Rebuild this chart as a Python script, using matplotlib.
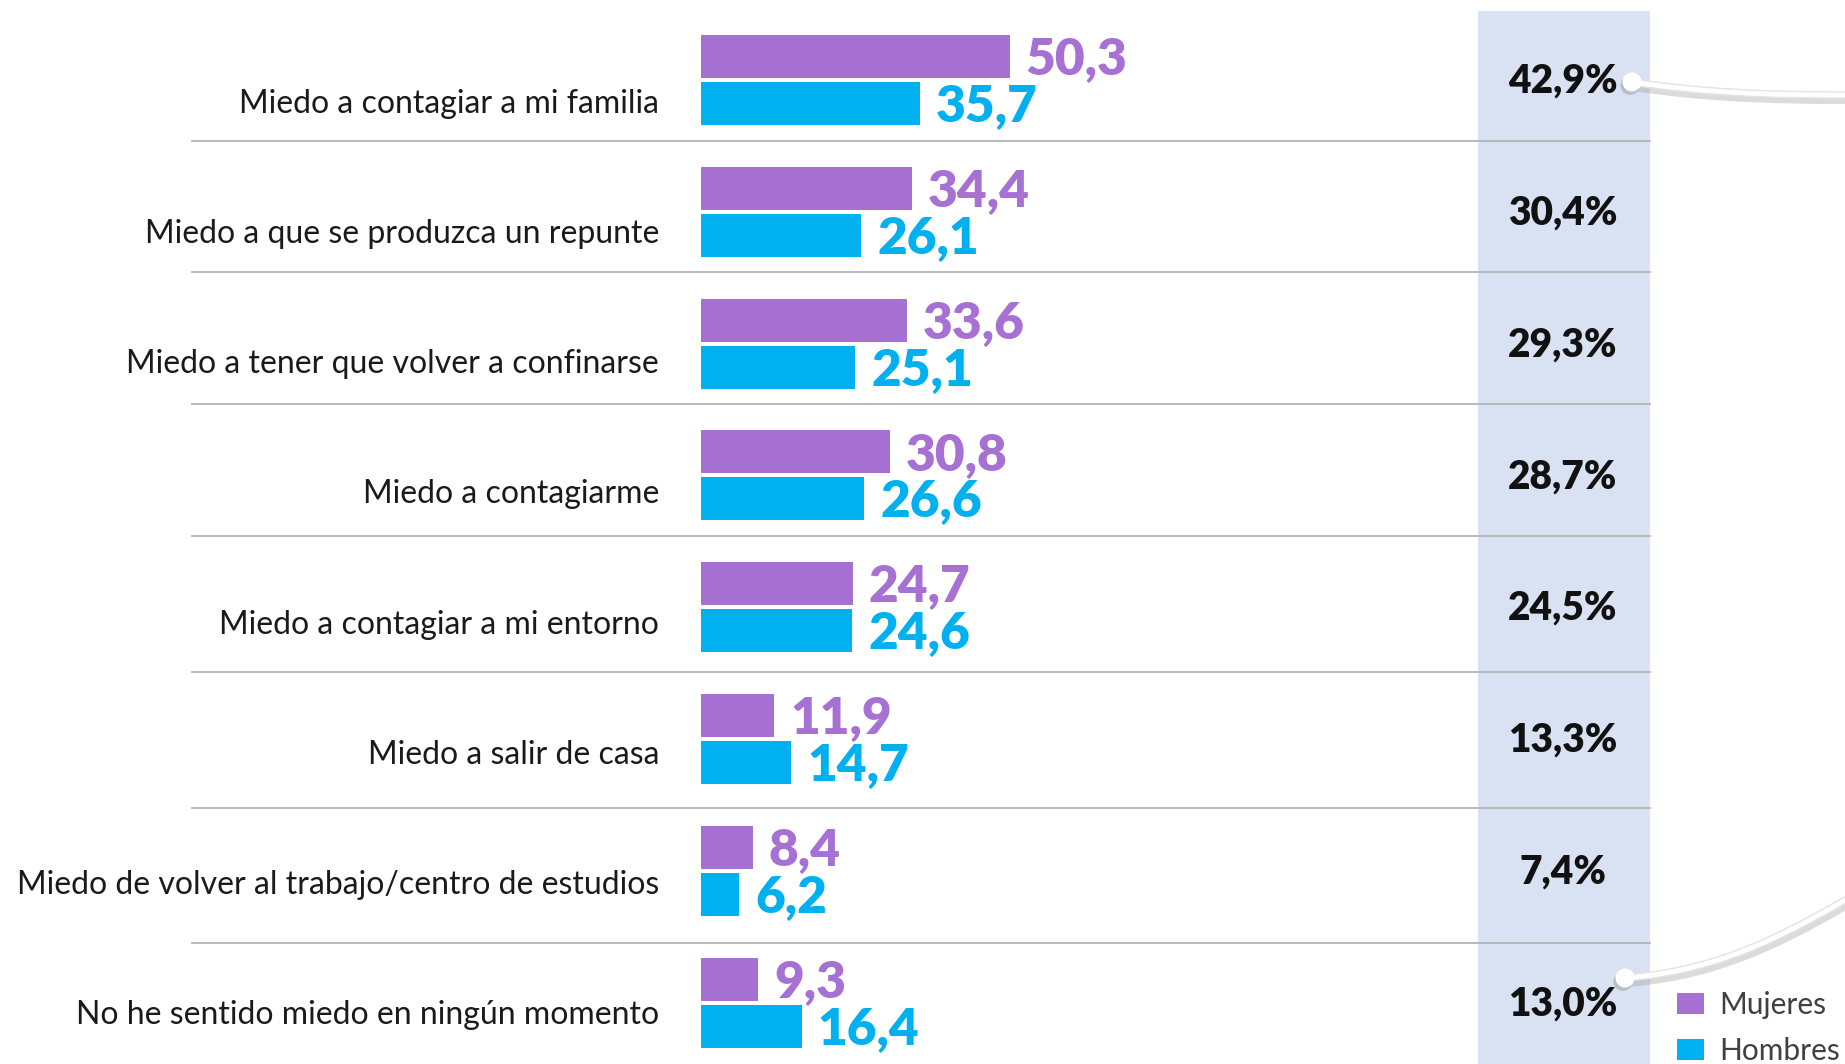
import numpy as np
import matplotlib
matplotlib.use("Agg")
import matplotlib.pyplot as plt
import matplotlib.patheffects as pe
import matplotlib.transforms as mtransforms
from matplotlib.path import Path
from matplotlib.patches import PathPatch, Rectangle, Circle

plt.rcParams['font.family'] = ['Lato', 'DejaVu Sans']

# Data (top to bottom)
categories = [
    "Miedo a contagiar a mi familia",
    "Miedo a que se produzca un repunte",
    "Miedo a tener que volver a confinarse",
    "Miedo a contagiarme",
    "Miedo a contagiar a mi entorno",
    "Miedo a salir de casa",
    "Miedo de volver al trabajo/centro de estudios",
    "No he sentido miedo en ningún momento",
]
mujeres = [50.3, 34.4, 33.6, 30.8, 24.7, 11.9, 8.4, 9.3]
hombres = [35.7, 26.1, 25.1, 26.6, 24.6, 14.7, 6.2, 16.4]
total = [42.9, 30.4, 29.3, 28.7, 24.5, 13.3, 7.4, 13.0]
series_labels = ["Mujeres", "Hombres"]

PURPLE = "#A770D3"
BLUE = "#00B0EF"
COLUMN_BG = "#D9E2F3"

W, H = 1845, 1064


def fmt(v):
    return f"{v:.1f}".replace(".", ",")


fig = plt.figure(figsize=(W / 100, H / 100), dpi=100)
ax = fig.add_axes([0, 0, 1, 1])

# scale: bars start at 701 px, 6.14 px per unit; rows 131.8 px apart, first at 80 px
px_per_unit = 6.14
row_px = 131.8
x0_px, y0_px = 701, 80
ax.set_xlim(-x0_px / px_per_unit, (W - x0_px) / px_per_unit)
ax.set_ylim((H - y0_px) / row_px, -y0_px / row_px)
ax.axis("off")


def px(x, y):
    # pixel (from top-left) -> axes fraction
    return x / W, 1 - y / H


# highlighted total column
cx0, cy0 = px(1478, 11)
cx1, _ = px(1650, 0)
ax.add_patch(Rectangle((cx0, 0), cx1 - cx0, cy0, transform=ax.transAxes,
                       facecolor=COLUMN_BG, edgecolor="none", zorder=0))

y = np.arange(len(categories))
bh = 0.326
off = 0.178
ax.barh(y - off, mujeres, height=bh, color=PURPLE, label=series_labels[0], zorder=2)
ax.barh(y + off, hombres, height=bh, color=BLUE, label=series_labels[1], zorder=2)

gap = 2.6
for i in range(len(categories)):
    ax.text(mujeres[i] + gap, y[i] - off + 0.02, fmt(mujeres[i]), color=PURPLE,
            fontsize=37, fontweight="heavy", ha="left", va="center", zorder=3)
    ax.text(hombres[i] + gap, y[i] + off + 0.02, fmt(hombres[i]), color=BLUE,
            fontsize=37, fontweight="heavy", ha="left", va="center", zorder=3)
    ax.text(-6.8, y[i] + 0.18 - 0.012 * i, categories[i], color="#1a1a1a", fontsize=23,
            ha="right", va="center", zorder=3)
    ax.text((1563 - x0_px) / px_per_unit, y[i] + 0.01, fmt(total[i]) + "%", color="#111111",
            fontsize=28, fontweight="heavy", ha="center", va="center", zorder=3)

# row separators
sx0, _ = px(192, 0)
sx1, _ = px(1650, 0)
blend = mtransforms.blended_transform_factory(ax.transAxes, ax.transData)
for i in range(len(categories) - 1):
    yy = i + 0.46 + 0.03 * max(0, i - 3)
    ax.plot([sx0, sx1], [yy, yy], color="#b4b4b4", lw=1.3, transform=blend, zorder=1)

# decorative connector lines
line_fx = [pe.SimpleLineShadow(offset=(1, -2.5), shadow_color="#9a9a9a", alpha=0.35, linewidth=8),
           pe.withStroke(linewidth=5.5, foreground="#e4e4e4"),
           pe.Normal()]
curves = [
    [(1632, 82), (1700, 92), (1760, 95), (1845, 95)],
    [(1625, 978), (1700, 972), (1760, 950), (1845, 900)],
]
pix = mtransforms.Affine2D().scale(1, -1).translate(0, H)
for pts in curves:
    verts = [px(*p) for p in pts]
    path = Path(verts, [Path.MOVETO, Path.CURVE4, Path.CURVE4, Path.CURVE4])
    patch = PathPatch(path, facecolor="none", edgecolor="white", lw=3.2,
                      transform=ax.transAxes, zorder=4, capstyle="round")
    patch.set_path_effects(line_fx)
    ax.add_patch(patch)
    dot = Circle(pts[0], 9.5, facecolor="white", edgecolor="none", zorder=5, transform=pix)
    dot.set_path_effects([pe.SimplePatchShadow(offset=(-1.5, -2.5), shadow_rgbFace="#8a8a8a", alpha=0.4),
                          pe.Normal()])
    ax.add_patch(dot)

# legend
lx, ly = px(1677, 991)
leg = ax.legend(loc="upper left", bbox_to_anchor=(lx, ly), frameon=False,
                fontsize=21.5, handlelength=0.9, handleheight=0.68, handletextpad=0.5,
                labelspacing=0.6, borderpad=0, borderaxespad=0)
for t in leg.get_texts():
    t.set_color("#404040")

fig.savefig("out.png", dpi=100, facecolor="white")
